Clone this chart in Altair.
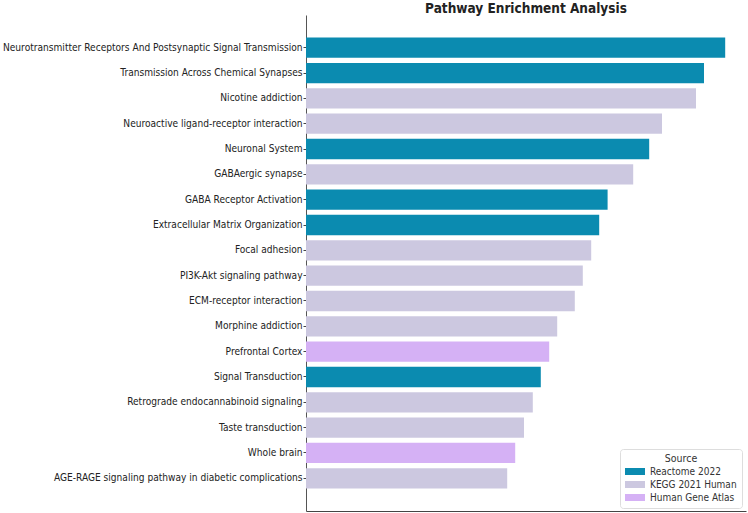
import altair as alt
import pandas as pd

terms = [
    "Neurotransmitter Receptors And Postsynaptic Signal Transmission",
    "Transmission Across Chemical Synapses",
    "Nicotine addiction",
    "Neuroactive ligand-receptor interaction",
    "Neuronal System",
    "GABAergic synapse",
    "GABA Receptor Activation",
    "Extracellular Matrix Organization",
    "Focal adhesion",
    "PI3K-Akt signaling pathway",
    "ECM-receptor interaction",
    "Morphine addiction",
    "Prefrontal Cortex",
    "Signal Transduction",
    "Retrograde endocannabinoid signaling",
    "Taste transduction",
    "Whole brain",
    "AGE-RAGE signaling pathway in diabetic complications",
]
scores = [10.48, 9.95, 9.75, 8.90, 8.58, 8.18, 7.54, 7.33, 7.13, 6.92,
          6.72, 6.28, 6.08, 5.87, 5.67, 5.45, 5.23, 5.03]
sources = [
    "Reactome 2022", "Reactome 2022", "KEGG 2021 Human", "KEGG 2021 Human",
    "Reactome 2022", "KEGG 2021 Human", "Reactome 2022", "Reactome 2022",
    "KEGG 2021 Human", "KEGG 2021 Human", "KEGG 2021 Human", "KEGG 2021 Human",
    "Human Gene Atlas", "Reactome 2022", "KEGG 2021 Human", "KEGG 2021 Human",
    "Human Gene Atlas", "KEGG 2021 Human",
]
source_names = ["Reactome 2022", "KEGG 2021 Human", "Human Gene Atlas"]
source_colors = ["#0b8bb0", "#ccc8e0", "#d5b1f5"]

df = pd.DataFrame({"Term": terms, "Score": scores, "Source": sources})

FONT = "DejaVu Sans Condensed, DejaVu Sans"

chart = alt.Chart(df).mark_bar().encode(
    y=alt.Y("Term:N", sort=terms,
            scale=alt.Scale(paddingInner=0.2, paddingOuter=0.89),
            axis=alt.Axis(title=None, labelFontSize=10.1, labelFont=FONT,
                          labelColor="#222222", labelPadding=1, tickSize=3,
                          tickColor="#444444", domainColor="#555555",
                          labelLimit=400, grid=False)),
    x=alt.X("Score:Q", scale=alt.Scale(domain=[0, 11.0], nice=False, zero=True),
            axis=alt.Axis(title=None, labels=False, ticks=False, grid=False,
                          domainColor="#444444")),
    color=alt.Color("Source:N",
                    scale=alt.Scale(domain=source_names, range=source_colors),
                    legend=alt.Legend(
                        title="Source", orient="none", legendX=314, legendY=434,
                        titleFont=FONT, titleFontSize=10.5, titleFontWeight="normal",
                        titleColor="#333333", titleAnchor="middle",
                        labelFont=FONT, labelFontSize=10, labelColor="#333333",
                        symbolType="M-1,-0.7H3V0.7H-1Z", symbolSize=100,
                        symbolStrokeWidth=0, rowPadding=3, labelOffset=15,
                        padding=5, strokeColor="#dddddd", fillColor="white",
                        cornerRadius=3, titlePadding=2)),
).properties(
    width=440, height=496,
    title=alt.TitleParams("Pathway Enrichment Analysis", fontSize=13.5,
                          font=FONT, fontWeight="bold", color="#222222",
                          anchor="middle", offset=2, dy=2),
    autosize=alt.AutoSizeParams(type="none"),
    padding={"left": 306, "top": 15, "right": 2, "bottom": 2},
).configure_view(stroke=None)

chart.save("out.html", embed_options={"renderer": "svg", "actions": False})
